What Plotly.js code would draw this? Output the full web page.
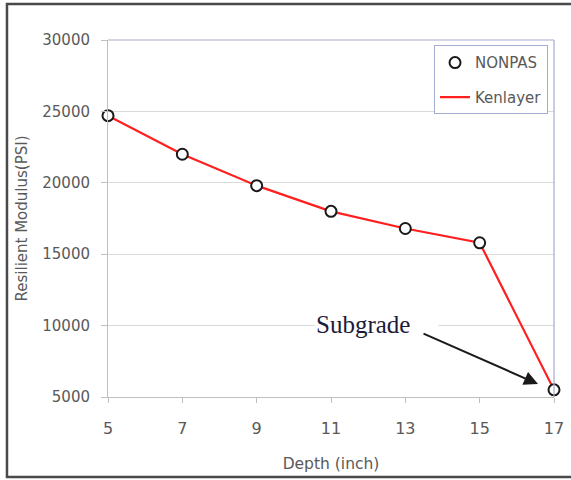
<!DOCTYPE html>
<html>
<head>
<meta charset="utf-8">
<script src="https://cdn.plot.ly/plotly-3.0.1.min.js"></script>
<style>
  html, body { margin: 0; padding: 0; background: #ffffff; }
  #chart { width: 571px; height: 480px; }
</style>
</head>
<body>
<div id="chart"></div>
<script>
// Resilient modulus against depth
const depth = [5, 7, 9, 11, 13, 15, 17];
const nonpas = [24700, 22000, 19800, 18000, 16800, 15800, 5500];
const kenlayer = [24700, 22000, 19800, 18000, 16800, 15800, 5500];
const yTicks = [5000, 10000, 15000, 20000, 25000, 30000];

const tickColor = '#595959';
const axisGray = '#bfbfbf';
const frameBlue = '#a3acce';

const traces = [
  {
    x: depth, y: kenlayer, name: 'Kenlayer', type: 'scatter', mode: 'lines',
    line: { color: '#ff1f1f', width: 2.2 },
    legendgroup: 'k', legendrank: 2, cliponaxis: false
  },
  {
    x: depth, y: nonpas, name: 'NONPAS', type: 'scatter', mode: 'markers',
    marker: { symbol: 'circle', size: 11, color: '#ffffff', line: { color: '#1a1a1a', width: 2 } },
    legendgroup: 'n', legendrank: 1, cliponaxis: false
  }
];

const layout = {
  width: 571, height: 480,
  margin: { l: 108, r: 17, t: 40, b: 83 },
  paper_bgcolor: '#ffffff', plot_bgcolor: '#ffffff',
  font: { family: 'DejaVu Sans', color: tickColor },
  showlegend: true,
  legend: {
    x: 0.731, y: 0.985, xanchor: 'left', yanchor: 'top',
    bordercolor: frameBlue, borderwidth: 1, bgcolor: '#ffffff',
    font: { size: 15, color: tickColor, family: 'DejaVu Sans' },
    traceorder: 'grouped', tracegroupgap: 12
  },
  xaxis: {
    range: [5, 17], tickvals: depth, showgrid: false, zeroline: false,
    showline: true, linecolor: axisGray, linewidth: 1,
    ticks: 'outside', ticklen: 5, tickcolor: axisGray,
    tickfont: { size: 16, color: tickColor }, ticklabelstandoff: 12,
    title: { text: 'Depth (inch)', font: { size: 15.5, color: tickColor }, standoff: 20 }
  },
  yaxis: {
    range: [5000, 30000], tickvals: yTicks, tickformat: 'd',
    showgrid: true, gridcolor: '#d9d9d9', gridwidth: 1,
    zeroline: false, showline: true, linecolor: axisGray, linewidth: 1,
    ticks: 'outside', ticklen: 6, tickcolor: axisGray,
    tickfont: { size: 15, color: tickColor }, ticklabelstandoff: 8,
    title: { text: 'Resilient Modulus(PSI)', font: { size: 15, color: tickColor }, standoff: 11 }
  },
  shapes: [
    // plot area top and right border
    { type: 'line', xref: 'paper', yref: 'paper', x0: 0, x1: 1, y0: 1, y1: 1, line: { color: frameBlue, width: 1.2 } },
    { type: 'line', xref: 'paper', yref: 'paper', x0: 1, x1: 1, y0: 0, y1: 1, line: { color: frameBlue, width: 1.2 } },
    // outer frame
    { type: 'rect', xref: 'paper', yref: 'paper', x0: -0.2265, x1: 1.2, y0: -0.2241, y1: 1.1008,
      line: { color: '#4a4a4a', width: 2.5 }, layer: 'above' }
  ],
  annotations: [
    {
      x: 12.224, y: 10112, xref: 'x', yref: 'y', text: 'Subgrade', showarrow: false,
      xanchor: 'center', yanchor: 'middle', align: 'left', width: 121, borderpad: 1,
      bgcolor: '#ffffff',
      font: { family: 'Liberation Serif', size: 25, color: '#1c1c3a' }
    },
    {
      x: 16.57, y: 5910, xref: 'x', yref: 'y', text: '', showarrow: true,
      ax: -116, ay: -51, arrowhead: 2, arrowsize: 1.4, arrowwidth: 2, arrowcolor: '#1a1a1a'
    }
  ]
};

Plotly.newPlot('chart', traces, layout, { displayModeBar: false, staticPlot: true });
</script>
</body>
</html>
